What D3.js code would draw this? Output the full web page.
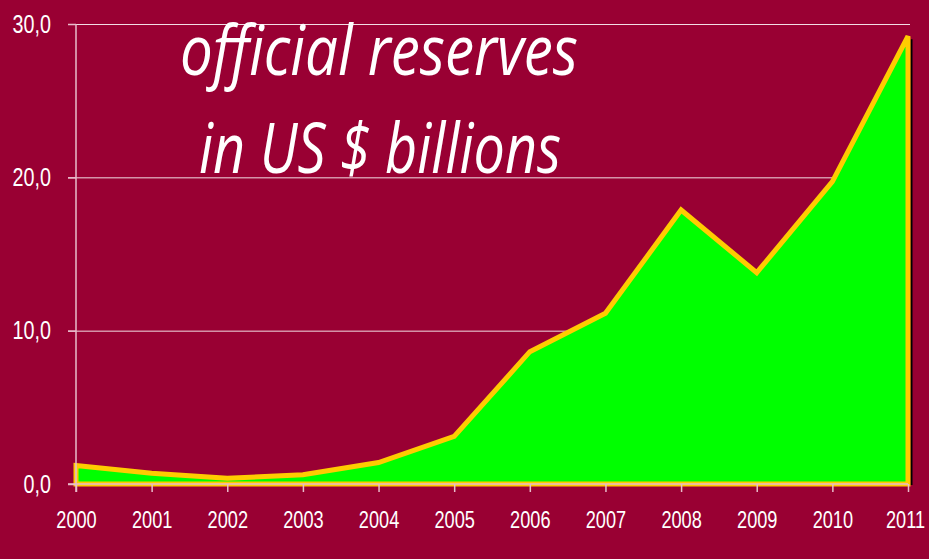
<!DOCTYPE html>
<html>
<head>
<meta charset="utf-8">
<script src="https://cdn.jsdelivr.net/npm/d3@7"></script>
<style>
  html, body { margin: 0; padding: 0; background: #990033; }
  svg { display: block; }
</style>
</head>
<body>
<svg id="chart" width="929" height="559"></svg>
<script>
// Official reserves, US $ billions, by year
const years = [2000, 2001, 2002, 2003, 2004, 2005, 2006, 2007, 2008, 2009, 2010, 2011];
const reserves = [1.2, 0.7, 0.37, 0.6, 1.4, 3.1, 8.63, 11.13, 17.87, 13.78, 19.72, 29.2];
const yTicks = [0, 10, 20, 30];
const titleLines = ["official reserves", "in US $ billions"];

const svg = d3.select("#chart");
const W = 929, H = 559;
const plot = { left: 76, right: 908, top: 24, bottom: 484 };

svg.append("rect").attr("width", W).attr("height", H).attr("fill", "#990033");

const x = d3.scaleLinear().domain([years[0], years[years.length - 1]]).range([plot.left, plot.right]);
const y = d3.scaleLinear().domain([0, 30]).range([plot.bottom, plot.top]);

const data = years.map((yr, i) => ({ year: yr, value: reserves[i] }));

// horizontal gridlines
svg.append("g").selectAll("line")
  .data(yTicks.filter(v => v > 0))
  .join("line")
  .attr("x1", plot.left - 8).attr("x2", plot.right + 2)
  .attr("y1", d => y(d) + 0.5).attr("y2", d => y(d) + 0.5)
  .attr("stroke", "#f2dde4").attr("stroke-width", 1);

// dark edge on the right side of the area
const last = data[data.length - 1];
svg.append("line")
  .attr("x1", x(last.year) + 3.5).attr("x2", x(last.year) + 3.5)
  .attr("y1", y(last.value) + 3).attr("y2", y(0) + 1)
  .attr("stroke", "#000").attr("stroke-width", 2);

// filled area with yellow outline
const area = d3.area()
  .x(d => x(d.year))
  .y0(y(0))
  .y1(d => y(d.value));

svg.append("path")
  .datum(data)
  .attr("d", area)
  .attr("fill", "#00ff00")
  .attr("stroke", "#ffcc00")
  .attr("stroke-width", 5)
  .attr("stroke-linejoin", "miter");

// axes
const fmt = v => d3.format(".1f")(v).replace(".", ",");

const yAxis = svg.append("g")
  .attr("transform", `translate(${plot.left},0)`)
  .call(d3.axisLeft(y).tickValues(yTicks).tickFormat(fmt).tickSize(8).tickPadding(17));

const xAxis = svg.append("g")
  .attr("transform", `translate(0,${plot.bottom})`)
  .call(d3.axisBottom(x).tickValues(years).tickFormat(d3.format("d")).tickSize(8).tickPadding(20));

[yAxis, xAxis].forEach(g => {
  g.select(".domain").attr("stroke", "#e8bccb").attr("stroke-width", 1.5);
  g.selectAll(".tick line").attr("stroke", "#e8bccb").attr("stroke-width", 1.5);
  g.selectAll("text")
    .attr("fill", "#ffffff")
    .attr("font-family", "'Liberation Sans', Arial, sans-serif");
});
yAxis.select(".domain").attr("d", `M0,${plot.top}V${plot.bottom + 8}`);
xAxis.select(".domain").attr("d", `M${plot.left - 8},0H${plot.right}`);
yAxis.selectAll("text").attr("font-size", 25);
xAxis.selectAll("text").attr("font-size", 23);

// narrow the tick labels
[yAxis, xAxis].forEach(g => {
  g.selectAll("text").each(function () {
    const w = this.getComputedTextLength();
    d3.select(this).attr("textLength", w * 0.79).attr("lengthAdjust", "spacingAndGlyphs");
  });
});
// keep the last year label inside the frame
xAxis.selectAll(".tick text").filter(d => d === years[years.length - 1]).attr("dx", -3);

// title
const title = svg.append("g")
  .attr("fill", "#ffffff")
  .attr("font-family", "'Open Sans', 'DejaVu Sans', sans-serif")
  .attr("font-style", "italic")
  .attr("font-size", 70);

const titlePos = [{ x: 180, y: 75, len: 398 }, { x: 199, y: 173, len: 362 }];
title.selectAll("text")
  .data(titleLines)
  .join("text")
  .attr("x", (d, i) => titlePos[i].x)
  .attr("y", (d, i) => titlePos[i].y)
  .attr("textLength", (d, i) => titlePos[i].len)
  .attr("lengthAdjust", "spacingAndGlyphs")
  .text(d => d);
</script>
</body>
</html>
